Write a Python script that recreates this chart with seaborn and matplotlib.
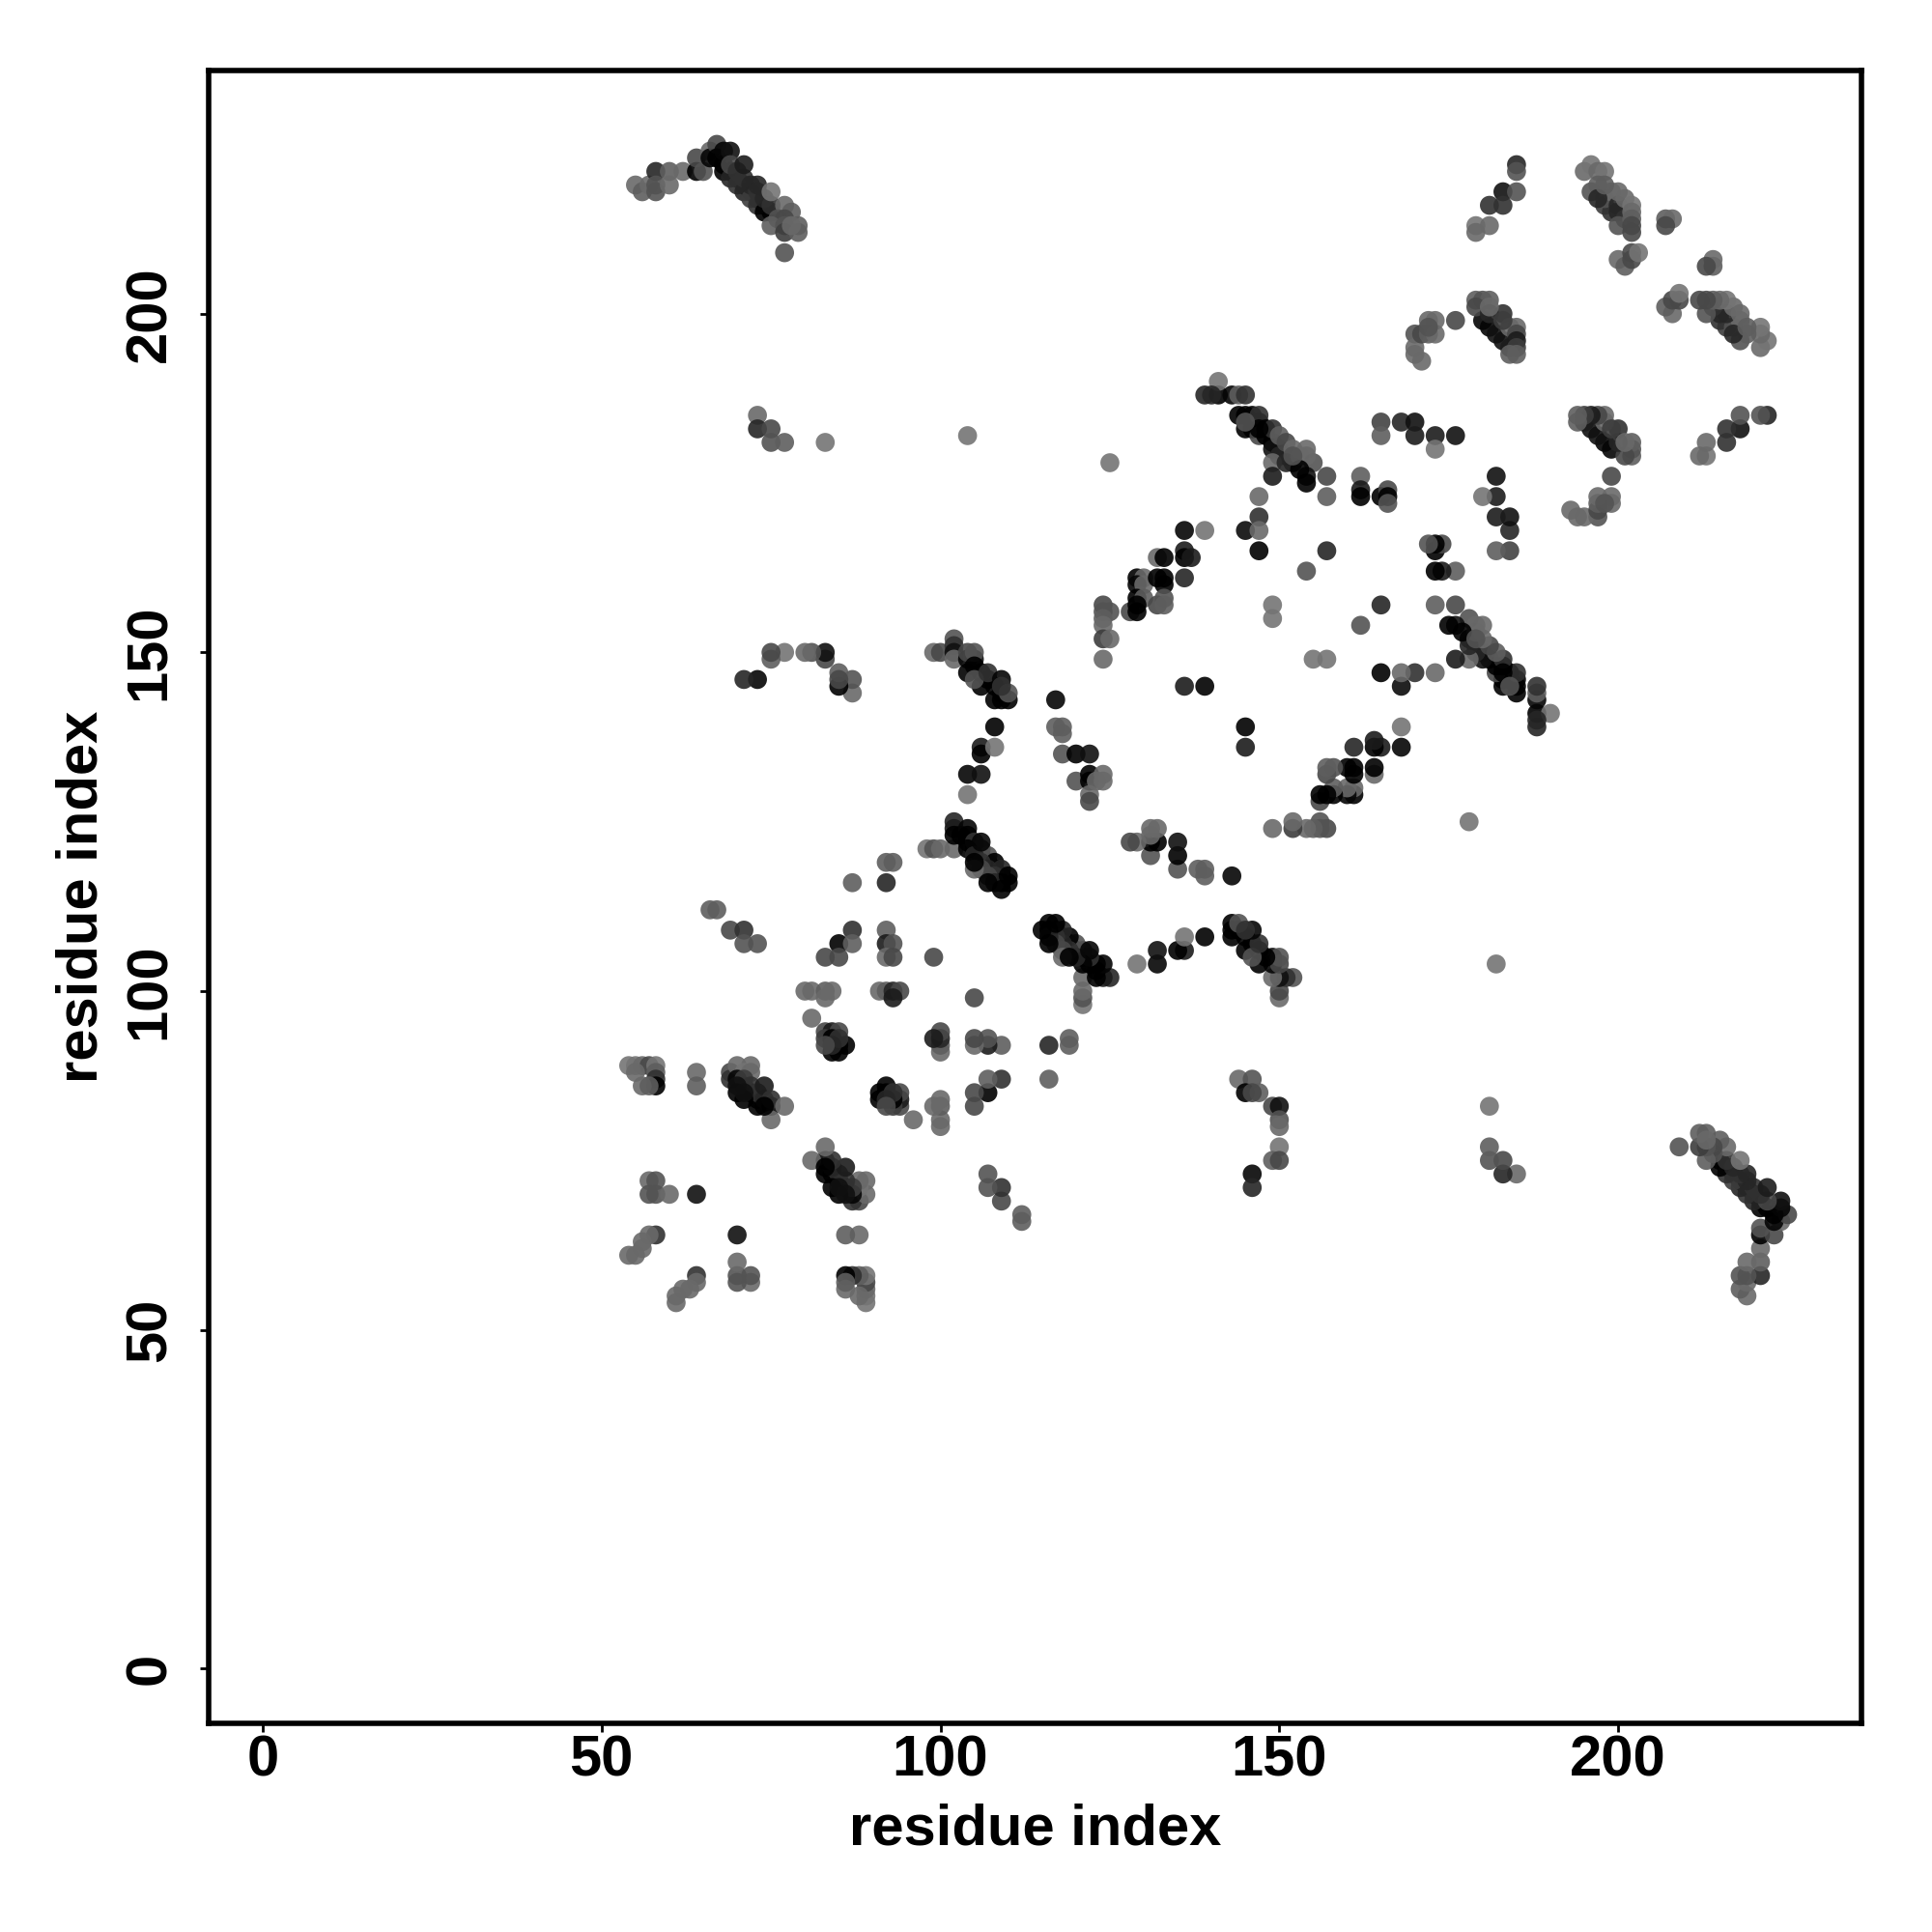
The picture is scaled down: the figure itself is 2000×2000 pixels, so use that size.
import matplotlib
matplotlib.use("Agg")
import matplotlib.pyplot as plt
import seaborn as sns
import pandas as pd

# Contact map: (residue i, residue j, grey level of the dot).
# The map is symmetric, each contact is drawn at (i, j) and at (j, i).
cluster_terminal = [
    (55,219,120),(56,218,110),(57,219,120),(58,218,100),(58,221,60),(58,219,100),(60,221,110),(60,219,120),
    (62,221,120),(64,221,5),(64,223,90),(65,221,100),(66,224,120),(66,223,30),(67,225,90),
    (67,223,10),(68,222,10),(69,221,10),(70,220,10),(71,219,10),(72,218,10),(73,217,10),(74,216,10),(75,215,10),
    (68,221,20),(69,220,60),(70,219,70),(71,218,60),(72,217,80),(73,216,70),(74,215,20),
    (68,224,30),(69,224,40),(69,222,90),(70,221,70),(71,220,70),(72,219,60),(73,218,70),(74,217,60),(75,216,70),
    (71,222,50),(73,219,60),(75,218,130),(77,216,120),(78,215,110),(76,214,100),(77,214,90),
    (75,213,110),(79,213,110),(77,213,100),(77,212,80),(79,212,110),(78,213,120),(77,209,100),
]
cluster_helix_a = [
    (139,188,60),(141,188,20),(143,188,30),(144,188,110),(145,188,70),(141,190,130),
    (144,185,5),(145,185,5),(146,185,5),(145,183,20),(146,183,10),(146,184,5),(147,184,15),(147,185,70),(147,182,90),
    (148,183,10),(148,182,20),(149,181,15),(150,180,20),(151,179,30),(152,178,40),(149,180,40),(150,179,60),
    (149,183,70),(150,182,110),(151,181,90),(152,180,120),(154,180,120),(149,178,120),(151,178,60),(152,178,70),
    (153,179,120),(155,178,100),(149,176,50),(154,176,40),(157,176,90),(162,176,110),(162,174,50),(162,173,0),
    (165,173,0),(166,174,90),(166,173,10),(166,172,100),(147,173,120),(157,173,110),(147,170,70),(145,168,35),
    (147,168,120),(136,168,30),(139,168,130),(147,165,20),(157,165,60),(154,162,100),
]
cluster_helix_b = [
    (136,165,50),(136,164,0),(137,164,50),(136,161,60),(132,164,120),(133,164,0),
    (129,161,0),(130,161,120),(129,160,30),(130,160,120),(132,161,0),(133,161,0),(133,160,0),
    (129,158,5),(130,158,110),(132,157,90),(133,158,100),(133,157,110),(128,156,90),(129,156,20),
    (124,157,90),(125,156,100),(124,156,100),(124,155,110),(124,154,120),(124,152,80),(125,152,120),(124,149,120),
    (136,145,50),(139,145,10),(149,157,130),(149,155,130),(162,154,100),(165,157,50),(173,157,100),
    (155,149,110),(157,149,120),(165,147,30),(168,147,120),(168,145,50),(170,147,60),(173,147,110),
]
cluster_right = [
    (165,184,85),(165,182,110),(168,184,60),(170,184,40),(170,182,50),(173,182,50),(173,180,130),(176,182,40),
    (172,166,110),(173,166,0),(174,166,80),(173,165,0),(173,162,0),(174,162,60),(176,162,120),(176,157,110),
    (175,154,20),(176,154,40),(176,149,40),(178,149,110),(180,149,110),(180,154,120),(179,154,120),
    (177,153,20),(178,152,60),(179,152,100),(180,152,100),(179,151,10),(180,150,10),(181,149,10),(182,148,5),(183,147,10),
    (181,151,100),(182,150,110),(183,149,70),(182,147,100),(184,146,0),(185,146,0),(184,145,100),(185,145,0),(185,144,0),(185,147,70),
    (188,145,60),(188,144,90),(188,143,20),(188,141,10),(188,140,60),(188,139,50),(190,141,130),
    (180,173,120),(182,173,50),(182,170,40),(184,170,40),(184,168,60),(182,165,90),(184,165,90),(182,176,35),
    (178,125,130),(182,104,130),(125,178,120),
]
cluster_sheet_a = [
    (99,150,120),(100,150,90),(102,152,100),(102,151,70),(102,150,40),(102,149,120),(104,149,30),(105,149,40),
    (104,150,90),(105,150,100),(104,147,10),(105,148,10),(106,147,5),(106,145,10),(107,146,5),(108,145,5),(109,144,5),
    (105,146,100),(107,147,70),(109,146,30),(108,143,0),(109,143,0),(110,143,5),(110,144,100),
    (108,139,5),(106,136,50),(106,135,20),(108,136,130),(104,132,30),(106,132,40),(104,129,130),
    (117,143,30),(117,139,110),(118,139,110),(118,138,110),(118,135,100),(120,135,25),(122,135,40),
    (120,131,100),(122,132,10),(122,131,10),(123,131,120),(124,132,120),(122,129,120),(122,128,90),
]
cluster_sheet_b = [
    (98,121,130),(99,121,100),(100,121,120),(102,121,120),(102,125,60),(102,124,50),(102,123,20),
    (103,123,10),(104,122,5),(105,121,5),(106,120,5),(107,119,5),(108,118,5),(109,117,5),(110,116,5),
    (104,124,30),(104,123,20),(105,122,70),(106,121,70),(107,120,100),(108,119,25),(109,118,60),
    (104,121,20),(105,120,60),(106,119,70),(107,118,60),(108,117,70),(109,116,5),(106,118,90),(107,117,90),(108,116,60),(109,115,0),
    (104,122,110),(106,122,30),(105,118,120),(107,116,5),(110,117,0),(110,116,90),
    (93,119,110),(92,119,110),(92,116,60),(87,116,110),
    (128,122,100),(129,122,120),(131,124,120),(132,124,120),(131,123,120),(131,122,10),(132,122,10),(131,120,90),
    (135,122,50),(135,120,20),(135,118,110),
]
cluster_upper_corner = [
    (185,222,60),(185,221,100),(183,218,40),(185,218,100),(181,216,70),(183,216,70),(179,213,130),(179,212,120),(181,213,120),
    (195,221,120),(196,222,130),(197,221,120),(198,221,130),(196,218,100),(197,219,110),(198,216,80),(199,215,70),
    (198,217,100),(199,218,120),(200,216,60),(200,215,60),(201,214,70),(200,213,100),(200,218,120),(201,217,120),
    (202,216,130),(202,215,120),(202,214,110),(202,213,90),(202,212,90),
    (207,214,110),(208,214,120),(207,213,90),(200,208,120),(201,207,110),(202,208,90),(202,209,90),(203,209,130),
    (214,208,130),(213,207,90),(214,207,120),(209,203,120),(207,201,120),(208,200,120),(209,202,90),
    (212,202,100),(213,202,80),(214,202,90),(213,200,110),(214,201,50),(215,199,60),(216,198,80),(217,197,60),(218,196,110),
    (215,202,100),(216,202,120),(217,201,120),(218,200,120),(219,198,110),(221,198,130),(221,195,110),(222,196,130),
]
cluster_upper_mid = [
    (170,197,100),(170,195,120),(170,194,120),(171,193,120),(171,197,90),(172,199,120),(173,199,120),(172,197,110),(173,197,120),(176,199,90),
    (180,199,30),(181,198,30),(182,197,40),(183,196,40),(184,195,50),(179,202,110),(180,202,100),(181,202,110),(179,201,90),(183,200,70),
    (185,198,120),(184,198,120),(185,197,90),(185,196,50),(185,195,80),(185,194,110),(184,194,110),
    (194,185,120),(194,184,120),(195,185,110),(196,185,50),(197,185,100),(198,185,120),(197,182,40),(198,181,40),(199,180,30),(200,181,60),
    (199,183,80),(201,181,120),(202,181,120),(202,179,100),(201,179,100),(199,176,100),
    (213,181,120),(212,179,120),(213,179,120),(216,183,70),(216,181,70),(218,183,40),(218,185,90),(221,185,100),(222,185,70),
    (193,171,120),(194,170,110),(197,170,100),(197,173,110),(199,173,120),(198,172,100),
]
cluster_sheet_c = [
    (115,109,5),(116,110,90),(117,110,0),(116,108,5),(116,107,5),(117,109,0),(118,108,5),(119,108,15),(120,107,80),(119,105,5),
    (119,107,30),(120,106,40),(121,105,70),(121,104,5),(122,106,20),(122,104,5),(123,104,120),(124,104,5),(123,102,10),(124,102,40),(125,102,50),
    (121,102,100),(121,100,100),(121,99,90),(121,98,130),(129,104,130),(132,106,40),(132,104,20),(135,106,20),(136,106,50),(136,108,130),(139,108,5),
    (143,110,0),(143,109,0),(143,108,0),(144,110,90),(144,109,5),(145,109,70),(145,108,5),(146,109,15),(146,107,40),(147,106,5),(148,105,60),
    (145,106,5),(147,107,60),(147,104,0),(146,105,100),(149,105,70),(150,105,110),(150,104,110),(149,102,100),(150,102,20),(152,102,90),(150,100,70),(150,99,110),
    (116,92,50),(119,93,100),(119,92,110),(116,87,100),(144,87,120),(146,87,100),(145,85,10),(147,85,110),(149,83,90),(150,83,40),
    (150,81,100),(150,80,120),(150,77,130),(149,75,110),(150,75,90),(146,73,30),(146,71,60),
]
cluster_low_left = [
    (54,89,130),(55,89,130),(56,89,120),(57,89,90),(58,89,130),(55,88,120),(58,88,110),(58,87,70),(58,86,20),(56,86,120),(57,86,110),
    (64,88,120),(64,86,110),(69,88,90),(69,87,70),(70,89,120),(72,89,120),(71,88,130),(72,88,120),(70,87,30),(71,86,10),(72,85,5),(73,84,10),(73,83,20),
    (71,87,80),(72,86,70),(73,85,70),(74,84,60),(75,83,30),
    (74,86,50),(75,84,70),(75,81,120),(77,83,120),
    (57,72,120),(58,72,100),(57,70,100),(58,70,100),(60,70,120),(64,70,40),(58,64,70),(57,64,120),(56,63,120),(56,62,120),(54,61,120),(55,61,120),
    (83,77,120),(81,75,120),(84,75,70),(86,74,50),(83,74,10),(83,73,10),(89,72,120),(88,72,120),(89,70,120),(84,71,5),(85,70,5),
    (84,73,70),(85,72,70),(86,71,70),(87,70,80),(85,71,40),(86,70,40),(87,69,60),(88,69,90),
    (66,112,110),(67,112,110),(69,109,90),(71,109,70),(71,107,100),(73,107,100),
    (71,146,60),(73,146,30),(75,149,100),(75,150,110),(77,150,120),(80,150,120),(81,150,110),(83,150,50),(83,149,70),(85,147,70),(85,146,90),(87,146,100),(87,144,110),
    (73,185,120),(73,183,60),(75,183,90),(75,181,100),(77,181,110),(83,181,130),(104,182,130),
]
cluster_core = [
    (87,109,70),(85,107,25),(87,107,110),(83,105,90),(85,105,90),(92,109,110),(92,107,50),(93,107,100),(92,105,120),(93,105,90),(99,105,90),
    (80,100,120),(81,100,120),(83,100,110),(84,100,120),(83,99,120),(91,100,120),(92,100,110),(93,100,60),(94,100,90),(93,99,50),(105,99,90),(81,96,120),
    (83,94,90),(84,94,50),(85,94,90),(83,93,80),(84,93,20),(85,92,5),(86,92,0),(84,91,0),(85,91,0),
    (99,93,60),(100,94,90),(100,93,70),(100,92,100),(100,91,130),(105,93,90),(105,92,110),(107,93,110),(107,92,60),(109,92,110),
    (107,87,120),(109,87,70),(107,85,15),(105,85,90),(105,83,90),(91,85,5),(92,86,0),(92,85,5),(93,85,70),(92,84,60),(93,84,60),(94,85,90),(94,83,80),(93,83,90),(92,83,90),
    (100,84,120),(99,83,110),(100,83,100),(100,81,120),(100,80,130),(96,81,120),
]
cluster_barrel = [
    (161,136,50),(164,137,50),(164,136,10),(165,136,60),(168,136,30),(168,139,130),
    (157,133,120),(158,133,100),(157,132,70),(160,133,5),(161,133,0),(161,132,0),(164,133,5),(164,132,110),
    (158,130,110),(156,129,20),(157,129,20),(156,128,70),(158,129,10),(160,130,110),(160,129,90),(161,130,110),(161,129,10),
    (152,125,120),(152,124,90),(149,124,100),(154,124,120),(155,124,120),(156,125,100),(156,124,70),(157,124,90),
]
x_ticks = [0, 50, 100, 150, 200]
axis_title = "residue index"

contacts = pd.DataFrame(
    cluster_terminal + cluster_helix_a + cluster_helix_b + cluster_right + cluster_sheet_a
    + cluster_sheet_b + cluster_upper_corner + cluster_upper_mid + cluster_sheet_c
    + cluster_low_left + cluster_core + cluster_barrel,
    columns=["i", "j", "grey"],
)
contacts["lo"] = contacts[["i", "j"]].min(axis=1)
contacts["hi"] = contacts[["i", "j"]].max(axis=1)
contacts = contacts.drop_duplicates(["lo", "hi"])
points = pd.concat([
    contacts[["lo", "hi", "grey"]].rename(columns={"lo": "x", "hi": "y"}),
    contacts[["lo", "hi", "grey"]].rename(columns={"hi": "x", "lo": "y"}),
], ignore_index=True)

DOT_ALPHA = 0.9
palette = {}
for g in points["grey"].unique():
    v = max(0.0, (g - 255 * (1 - DOT_ALPHA)) / DOT_ALPHA) / 255
    palette[g] = (v, v, v)

sns.set_theme(style="white")
plt.rcParams["font.family"] = ["Liberation Sans", "DejaVu Sans"]
plt.rcParams["font.weight"] = "bold"

fig = plt.figure(figsize=(10, 10), dpi=200)
ax = fig.add_axes([216 / 2000, 1 - 1784 / 2000, (1927 - 216) / 2000, (1784 - 73) / 2000])
sns.scatterplot(data=points, x="x", y="y", hue="grey", palette=palette, s=50, linewidth=0,
                alpha=DOT_ALPHA, legend=False, ax=ax)
ax.set_xlim(-7.98, 235.9)
ax.set_ylim(-8.1, 235.9)
ax.set_xticks(x_ticks)
ax.set_yticks(x_ticks)
ax.tick_params(axis="both", which="major", length=3.3, width=1.0, color="black", labelsize=21.5,
               bottom=True, left=True, labelcolor="black", pad=1)
ax.tick_params(axis="y", labelrotation=90, pad=8.5)
for lab in ax.get_yticklabels():
    lab.set_va("center")
for side in ax.spines.values():
    side.set_color("black")
    side.set_linewidth(2.0)
ax.set_xlabel(axis_title, fontsize=21.5, fontweight="bold", color="black", labelpad=5.5)
ax.set_ylabel(axis_title, fontsize=21.5, fontweight="bold", color="black", labelpad=5.5)
fig.savefig("out.png", dpi=200, facecolor="white")
